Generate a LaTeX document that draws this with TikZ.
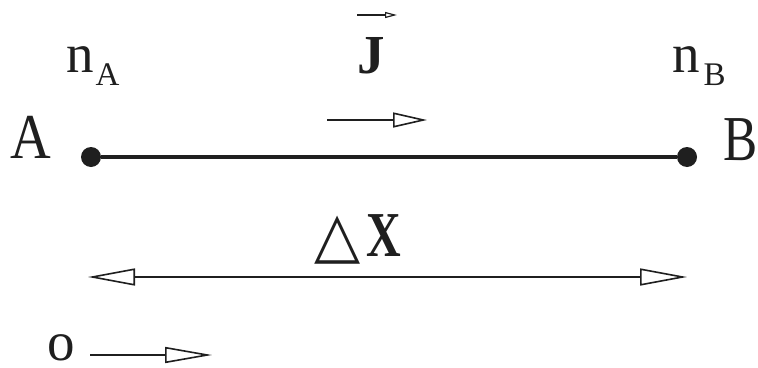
\documentclass[tikz,border=0pt]{standalone}
\usepackage{fontspec}
\setmainfont{Liberation Serif}
\newfontfamily\symfnt{DejaVu Sans}
\usetikzlibrary{arrows.meta}
\begin{document}
\begin{tikzpicture}[x=1pt,y=-1pt,
  ink/.style={color=black!88},
  dotnode/.style={circle,fill=black!88,inner sep=0pt,minimum size=20pt},
  lbl/.style={inner sep=0pt,anchor=base west,text=black!88},
  bigfont/.style={font=\fontsize{64}{64}\selectfont},
  midfont/.style={font=\fontsize{55}{55}\selectfont},
  openarrow/.style={ink,line width=1.6pt,-{Triangle[open,length=34pt,width=15pt,line width=1.6pt]}},
  longarrow/.style={ink,line width=1.6pt,{Triangle[open,length=47pt,width=17pt,line width=1.6pt]}-{Triangle[open,length=47pt,width=17pt,line width=1.6pt]}},
  botarrow/.style={ink,line width=1.6pt,-{Triangle[open,length=47pt,width=16pt,line width=1.6pt]}},
  vecarrow/.style={ink,line width=1.2pt,-{Triangle[open,length=12pt,width=6pt,line width=1.2pt]}}
]
\useasboundingbox (0,0) rectangle (758,367);
% end points
\node[dotnode] (dA) at (91,157) {};
\node[dotnode] (dB) at (687,157) {};
\draw[ink,line width=4pt] (dA) -- (dB);
% labels
\node[lbl,bigfont] (labA) at (10,158) {\scalebox{0.88}[1]{A}};
\node[lbl,bigfont] (labB) at (723,160) {\scalebox{0.8}[1]{B}};
\node[lbl,midfont] (nA) at (66,72) {n\kern2pt\raisebox{-13pt}{\fontsize{33}{33}\selectfont A}};
\node[lbl,midfont] (nB) at (672,72) {n\kern4pt\raisebox{-13pt}{\fontsize{33}{33}\selectfont B}};
% flux J
\node[lbl,midfont] (J) at (357,73) {\textbf{J}};
\coordinate (vs) at (357,15);
\coordinate (ve) at (397,15);
\draw[vecarrow] (vs) -- (ve);
\coordinate (js) at (327,120);
\coordinate (je) at (427,120);
\draw[openarrow] (js) -- (je);
% Delta X
\node[lbl,bigfont] (dX) at (314,256) {{\symfnt\fontsize{60}{60}\selectfont\scalebox{1}[1.05]{△}}\kern6pt\scalebox{0.75}[1]{\textbf{X}}};
\coordinate (ls) at (88,277);
\coordinate (le) at (687,277);
\draw[longarrow] (ls) -- (le);
% origin
\node[lbl,midfont] (o) at (47,360) {o};
\coordinate (os) at (90,355);
\coordinate (oe) at (212,355);
\draw[botarrow] (os) -- (oe);
\end{tikzpicture}
\end{document}
